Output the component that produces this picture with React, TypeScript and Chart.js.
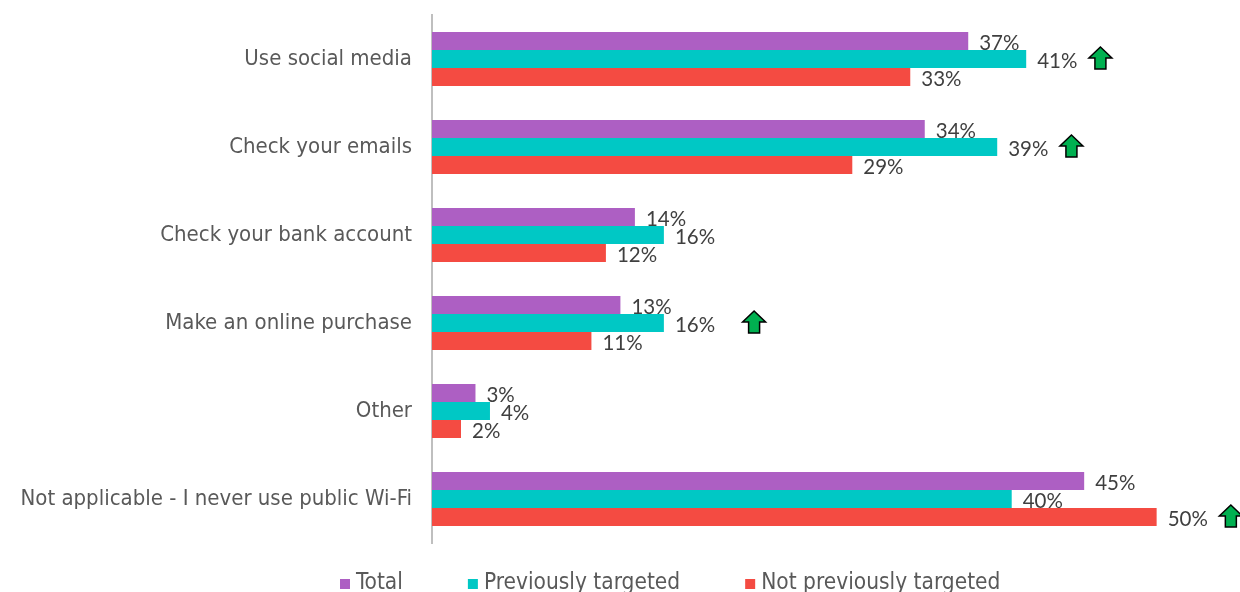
import React, { useEffect, useRef } from "react";
import { Chart, registerables } from "chart.js";

Chart.register(...registerables);

const categories = [
  "Use social media",
  "Check your emails",
  "Check your bank account",
  "Make an online purchase",
  "Other",
  "Not applicable - I never use public Wi-Fi",
];
const seriesNames = ["Total", "Previously targeted", "Not previously targeted"];
const totalValues = [37, 34, 14, 13, 3, 45];
const previouslyTargetedValues = [41, 39, 16, 16, 4, 40];
const notPreviouslyTargetedValues = [33, 29, 12, 11, 2, 50];
const seriesColors = ["#AD5FC3", "#00C8C5", "#F44B42"];
// significant increase markers: [categoryIndex, seriesIndex]
const upArrowCategories = [0, 1, 3, 5];
const upArrowSeries = [1, 1, 1, 2];

const LABEL_FONT = "'DejaVu Sans Condensed', 'DejaVu Sans', sans-serif";
const VALUE_FONT = "Lato, 'Open Sans', sans-serif";

const valueLabelsPlugin = {
  id: "valueLabels",
  afterDatasetsDraw(chart: any) {
    const ctx = chart.ctx;
    ctx.save();
    ctx.font = `20.5px ${VALUE_FONT}`;
    ctx.fillStyle = "#3F3F3F";
    ctx.textAlign = "left";
    ctx.textBaseline = "middle";
    chart.data.datasets.forEach((ds: any, di: number) => {
      const meta = chart.getDatasetMeta(di);
      meta.data.forEach((el: any, i: number) => {
        ctx.fillText(ds.data[i] + "%", el.x + 11, el.y + 2);
      });
    });
    upArrowCategories.forEach((ci, k) => {
      const si = upArrowSeries[k];
      const el = chart.getDatasetMeta(si).data[ci];
      const txt = chart.data.datasets[si].data[ci] + "%";
      const w = ctx.measureText(txt).width;
      const extra = ci === 3 ? 16 : 0;
      const left = el.x + 11 + w + 12 + extra;
      const cx = left + 11;
      const top = el.y - 12;
      const bottom = el.y + 10;
      const headBase = top + 11;
      ctx.beginPath();
      ctx.moveTo(cx, top);
      ctx.lineTo(cx + 11.5, headBase);
      ctx.lineTo(cx + 5.5, headBase);
      ctx.lineTo(cx + 5.5, bottom);
      ctx.lineTo(cx - 5.5, bottom);
      ctx.lineTo(cx - 5.5, headBase);
      ctx.lineTo(cx - 11.5, headBase);
      ctx.closePath();
      ctx.fillStyle = "#00B050";
      ctx.fill();
      ctx.lineWidth = 1.5;
      ctx.strokeStyle = "#000000";
      ctx.stroke();
    });
    ctx.restore();
  },
};

const legendPlugin = {
  id: "customLegend",
  afterDraw(chart: any) {
    const ctx = chart.ctx;
    ctx.save();
    ctx.font = `22.5px ${LABEL_FONT}`;
    ctx.textBaseline = "middle";
    ctx.textAlign = "left";
    let x = 340;
    const y = 583;
    chart.data.datasets.forEach((ds: any) => {
      ctx.fillStyle = ds.backgroundColor;
      ctx.fillRect(x, y - 4, 10, 10);
      ctx.fillStyle = "#595959";
      ctx.fillText(ds.label, x + 16, y);
      x += 16 + ctx.measureText(ds.label).width + 65;
    });
    ctx.restore();
  },
};

export default function App() {
  const ref = useRef<HTMLCanvasElement | null>(null);
  useEffect(() => {
    if (!ref.current) return;
    const seriesValues = [totalValues, previouslyTargetedValues, notPreviouslyTargetedValues];
    const chart = new Chart(ref.current, {
      type: "bar",
      data: {
        labels: categories,
        datasets: seriesNames.map((name, i) => ({
          label: name,
          data: seriesValues[i],
          backgroundColor: seriesColors[i],
          borderWidth: 0,
          categoryPercentage: 0.614,
          barPercentage: 1,
        })),
      },
      options: {
        indexAxis: "y",
        responsive: false,
        animation: false,
        layout: { padding: { top: 15, bottom: 49, left: 0, right: 8 } },
        plugins: {
          legend: { display: false },
          tooltip: { enabled: false },
        },
        scales: {
          x: {
            display: false,
            min: 0,
            max: 55.2,
          },
          y: {
            afterFit: (scale: any) => {
              scale.width = 432;
            },
            grid: { display: false, drawTicks: true, tickLength: 20 },
            border: { display: true, color: "#BFBFBF", width: 2 },
            ticks: {
              padding: 0,
              color: "#595959",
              font: { family: LABEL_FONT, size: 22 },
            },
          },
        },
      },
      plugins: [valueLabelsPlugin, legendPlugin],
    });
    return () => chart.destroy();
  }, []);
  return (
    <div style={{ position: "absolute", left: 0, top: 0, width: 1240, height: 592 }}>
      <canvas ref={ref} width={1240} height={592} style={{ display: "block" }} />
    </div>
  );
}
